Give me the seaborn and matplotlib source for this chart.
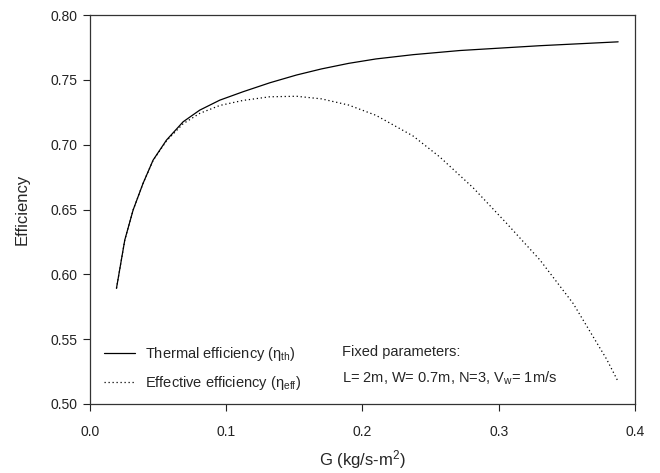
import matplotlib
matplotlib.use("Agg")
import matplotlib.pyplot as plt
import seaborn as sns
import pandas as pd

# values
g_thermal = [0.0196, 0.0257, 0.0318, 0.0391, 0.0465, 0.0563, 0.0685, 0.0807, 0.0954,
             0.1125, 0.1321, 0.1517, 0.170, 0.190, 0.210, 0.2373, 0.2716, 0.330, 0.3877]
eta_thermal = [0.5892, 0.6265, 0.6496, 0.6702, 0.6882, 0.7036, 0.7177, 0.7267, 0.7344,
               0.7409, 0.7478, 0.7538, 0.7585, 0.7628, 0.7662, 0.7695, 0.7727, 0.7764, 0.7794]

g_effective = [0.0196, 0.0257, 0.0318, 0.0391, 0.0465, 0.0563, 0.0685, 0.0807, 0.0954,
               0.1125, 0.1321, 0.1517, 0.170, 0.190, 0.210, 0.2373, 0.2569, 0.2813,
               0.3058, 0.3303, 0.3547, 0.3792, 0.3877]
eta_effective = [0.5892, 0.6265, 0.6496, 0.6702, 0.6880, 0.7030, 0.7162, 0.7242, 0.7303,
                 0.7342, 0.7370, 0.7374, 0.7354, 0.7306, 0.7227, 0.7067, 0.6905, 0.6668,
                 0.6394, 0.6111, 0.5775, 0.5346, 0.5172]

x_ticks = [0.0, 0.1, 0.2, 0.3, 0.4]
y_ticks = [0.50, 0.55, 0.60, 0.65, 0.70, 0.75, 0.80]

sns.set_theme(style="white")
plt.rcParams["font.family"] = ["Liberation Sans", "DejaVu Sans"]
plt.rcParams["mathtext.default"] = "regular"

fig = plt.figure(figsize=(6.6, 4.73), dpi=100)
ax = fig.add_axes([0.136, 0.146, 0.826, 0.822])

df_th = pd.DataFrame({"G": g_thermal, "eta": eta_thermal})
df_ef = pd.DataFrame({"G": g_effective, "eta": eta_effective})

sns.lineplot(data=df_th, x="G", y="eta", ax=ax, color="black", linewidth=0.9,
             label="Thermal efficiency (η$_{th}$)")
sns.lineplot(data=df_ef, x="G", y="eta", ax=ax, color="black", linewidth=0.9,
             linestyle=(0, (1, 2.2)), label="Effective efficiency (η$_{eff}$)")

ax.set_xlim(0.0, 0.4)
ax.set_ylim(0.50, 0.80)
ax.set_xticks(x_ticks)
ax.set_xticklabels([f"{t:.1f}" for t in x_ticks])
ax.set_yticks(y_ticks)
ax.set_yticklabels([f"{t:.2f}" for t in y_ticks])
ax.tick_params(axis="both", direction="out", length=5, width=0.8, labelsize=10,
               colors="#222222", bottom=True, left=True, top=False, right=False)
ax.tick_params(axis="x", pad=10)
ax.tick_params(axis="y", pad=4)
for side in ax.spines.values():
    side.set_color("#333333")
    side.set_linewidth(0.9)

ax.set_xlabel("G (kg/s-m$^{2}$)", fontsize=12, labelpad=7)
ax.set_ylabel("Efficiency", fontsize=12, labelpad=15)

ax.legend(loc="center left", bbox_to_anchor=(0.027, 0.092), frameon=False, fontsize=10.5,
          handlelength=2.06, handletextpad=0.7, labelspacing=0.75, borderpad=0,
          borderaxespad=0)

ax.text(0.462, 0.134, "Fixed parameters:", transform=ax.transAxes, fontsize=10.5,
        va="center", ha="left")
ax.text(0.462, 0.067, "L= 2m, W= 0.7m, N=3, V$_{w}$= 1m/s", transform=ax.transAxes,
        fontsize=10.5, va="center", ha="left")

plt.savefig("out.png", dpi=100)
plt.close()
